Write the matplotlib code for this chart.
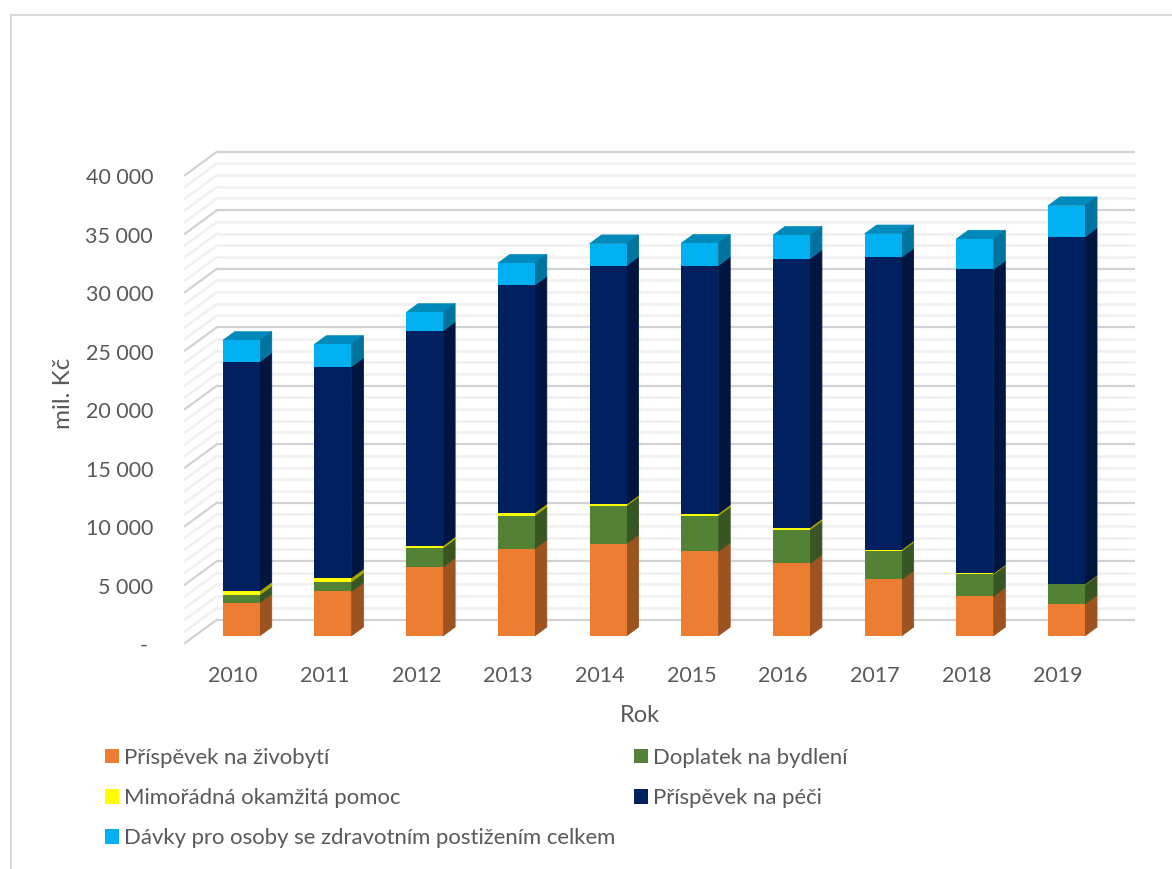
import matplotlib
matplotlib.use('Agg')
import matplotlib.pyplot as plt
from matplotlib.lines import Line2D
from matplotlib.patches import Polygon, Patch
from matplotlib.colors import to_rgb

years = [2010, 2011, 2012, 2013, 2014, 2015, 2016, 2017, 2018, 2019]
zivobyti = [2830, 3795, 5900, 7465, 7890, 7210, 6185, 4820, 3370, 2730]
bydleni = [680, 830, 1620, 2815, 3240, 3070, 2900, 2430, 1875, 1665]
pomoc = [340, 340, 200, 255, 130, 170, 170, 130, 85, 40]
pece = [19585, 18050, 18365, 19450, 20390, 21200, 22990, 24990, 25990, 29685]
postizeni = [1825, 1910, 1570, 1875, 1875, 1920, 2005, 2005, 2610, 2660]

series = [
    ('Příspěvek na živobytí', zivobyti, '#ED7D31'),
    ('Doplatek na bydlení', bydleni, '#548235'),
    ('Mimořádná okamžitá pomoc', pomoc, '#FFFF00'),
    ('Příspěvek na péči', pece, '#002060'),
    ('Dávky pro osoby se zdravotním postižením celkem', postizeni, '#00B0F0'),
]
y_ticks = [0, 5000, 10000, 15000, 20000, 25000, 30000, 35000, 40000]
y_labels = ['- ', '5 000', '10 000', '15 000', '20 000', '25 000', '30 000', '35 000', '40 000']

W, H = 1172, 869
TEXT = '#595959'
plt.rcParams['font.family'] = ['Lato', 'DejaVu Sans']

# pixel layout of the plot, one category = 91.7 px, 5000 = 58.6 px
px_x = 91.7
px_y = 58.6 / 5000
left, right, bottom, top = 185, 1135, 644, 151
x0 = 241.2
y0 = 636.8

fig = plt.figure(figsize=(W / 100, H / 100), dpi=100)
ax = fig.add_axes([left / W, 1 - bottom / H, (right - left) / W, (bottom - top) / H])
ax.set_xlim((left - x0) / px_x, (right - x0) / px_x)
ax.set_ylim((y0 - bottom) / px_y, (y0 - top) / px_y)
ax.patch.set_visible(False)
for s in ax.spines.values():
    s.set_visible(False)

# walls of the fake 3d box
front_shift = (y0 - 644) / px_y
back_shift = (y0 - 620.5) / px_y
wall_dx = 32 / px_x
wall_x0, wall_x1 = ax.get_xlim()
for v in range(0, 41000, 1000):
    major = v % 5000 == 0
    color = '#D2D2D2' if major else '#F1F1F1'
    lw = 1.6 if major else 2.0
    z = 2 if major else 1
    ax.plot([wall_x0 + wall_dx, wall_x1], [v + back_shift] * 2, color=color, lw=lw, zorder=z,
            solid_capstyle='butt', clip_on=False)
    ax.plot([wall_x0, wall_x0 + wall_dx], [v + front_shift, v + back_shift], color=color, lw=lw, zorder=z,
            clip_on=False)


def shade(color, f):
    return tuple(c * f for c in to_rgb(color))


# stacked columns with side and top faces
bar_w = 37 / px_x
dx = 12 / px_x
dy = 8.8 / px_y
for i in range(len(years)):
    base = 0
    for j, (name, values, color) in enumerate(series):
        v = values[i]
        xl = i - bar_w / 2
        xr = i + bar_w / 2
        ax.bar(i, v, bottom=base, width=bar_w, color=color, edgecolor='none', zorder=5)
        side = shade(color, 0.66)
        ax.add_patch(Polygon([(xr, base), (xr + dx, base + dy), (xr + dx, base + v + dy), (xr, base + v)],
                             closed=True, facecolor=side, edgecolor=side, lw=0.6, zorder=4))
        base += v
        if j == len(series) - 1:
            cap = shade(color, 0.78)
            ax.add_patch(Polygon([(xl, base), (xl + dx, base + dy), (xr + dx, base + dy), (xr, base)],
                                 closed=True, facecolor=cap, edgecolor=cap, lw=0.4, zorder=3))

# tick labels sit on the front edge of the floor
ax.set_xticks([i - 0.09 for i in range(len(years))])
ax.set_xticklabels(years)
ax.set_yticks([v + front_shift - 85 for v in y_ticks])
ax.set_yticklabels(y_labels)
ax.tick_params(axis='both', length=0, labelsize=15.5, labelcolor=TEXT)
ax.tick_params(axis='y', pad=23)
ax.tick_params(axis='x', pad=16)

ax.set_xlabel('Rok', fontsize=17, color=TEXT, va='center')
ax.xaxis.set_label_coords((640 - left) / (right - left), -(716 - bottom) / (bottom - top))
ax.set_ylabel('mil. Kč', fontsize=17.5, color=TEXT, va='center')
ax.yaxis.set_label_coords((63 - left) / (right - left), (bottom - 393) / (bottom - top))

# matplotlib fills legend columns first, the picture reads row by row
handles = [Patch(facecolor=series[k][2], label=series[k][0]) for k in (0, 2, 4, 1, 3)]
legend_fs = 15.9
fig.legend(handles=handles, ncol=2, loc='upper left', bbox_to_anchor=(105 / W, 1 - 748 / H),
           frameon=False, fontsize=legend_fs, labelcolor=TEXT, handlelength=10.1 / legend_fs,
           handleheight=10.1 / legend_fs, handletextpad=0.22, columnspacing=0.86, labelspacing=0.91,
           borderpad=0, borderaxespad=0)

# chart frame, cut off by the picture
fig.add_artist(Line2D([11 / W, 11 / W], [0, 1 - 15 / H], color='#D9D9D9', lw=1.5))
fig.add_artist(Line2D([11 / W, 1], [1 - 15 / H, 1 - 15 / H], color='#D9D9D9', lw=1.5))

fig.savefig('out.png', dpi=100)
